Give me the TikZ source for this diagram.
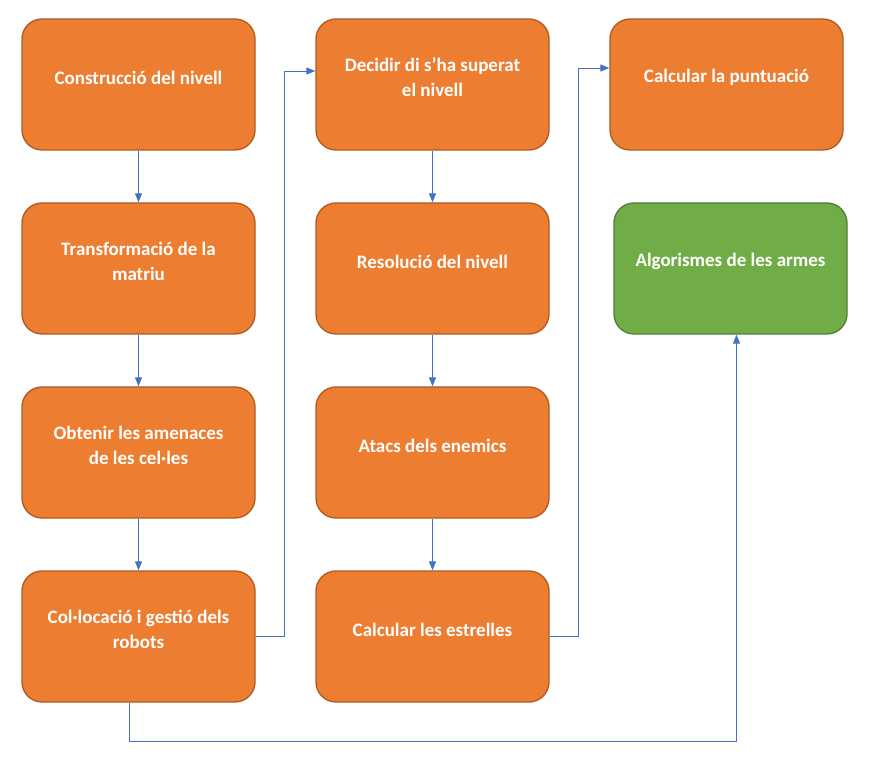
\documentclass[tikz,border=0pt]{standalone}
\usepackage{fontspec}
\setmainfont{Carlito}
\usetikzlibrary{arrows.meta}
\definecolor{boxorange}{HTML}{ED7D31}
\definecolor{orangeedge}{HTML}{AE5A21}
\definecolor{boxgreen}{HTML}{70AD47}
\definecolor{greenedge}{HTML}{507E32}
\definecolor{linkblue}{HTML}{4472C4}
\begin{document}
\begin{tikzpicture}[x=1pt, y=-1pt, node distance=184pt,
		main/.style = {draw=orangeedge, fill=boxorange, line width=1.3pt, rounded corners=20pt, minimum width=233pt, minimum height=131pt},
		txt/.style = {text=white, font=\bfseries\fontsize{19}{25}\selectfont, align=center, yshift=7pt},
		link/.style = {draw=linkblue, line width=0.9pt, -{Triangle[length=9pt,width=7pt]}}]
		\useasboundingbox (0,0) rectangle (871,767);
		\node[main, label={[txt]center:Construcció del nivell}] (1) at (138.5,84.5) {};
		\node[main, label={[txt]center:{Transformació de la\\matriu}}] (2) [below of=1] {};
		\node[main, label={[txt]center:{Obtenir les amenaces\\de les cel·les}}] (3) [below of=2] {};
		\node[main, label={[txt]center:{Col·locació i gestió dels\\robots}}] (4) [below of=3] {};
		\node[main, label={[txt]center:{Decidir di s’ha superat\\el nivell}}] (5) [node distance=294pt, right of=1] {};
		\node[main, label={[txt]center:Resolució del nivell}] (6) [below of=5] {};
		\node[main, label={[txt]center:Atacs dels enemics}] (7) [below of=6] {};
		\node[main, label={[txt]center:Calcular les estrelles}] (8) [below of=7] {};
		\node[main, label={[txt]center:Calcular la puntuació}] (9) [node distance=294pt, right of=5] {};
		\node[main, fill=boxgreen, draw=greenedge, label={[txt]center:Algorismes de les armes}] (10) [below of=9, xshift=4pt] {};
		\draw[link] (1) -- (2);
		\draw[link] (2) -- (3);
		\draw[link] (3) -- (4);
		\draw[link] (4.east) -- ++(29,0) |- ([yshift=13.5pt]5.west);
		\draw[link] (5) -- (6);
		\draw[link] (6) -- (7);
		\draw[link] (7) -- (8);
		\draw[link] (8.east) -- ++(29,0) |- ([yshift=16.5pt]9.west);
		\draw[link] ([xshift=-9pt]4.south) -- ++(0,39) -| ([xshift=6pt]10.south);
	\end{tikzpicture}
\end{document}
